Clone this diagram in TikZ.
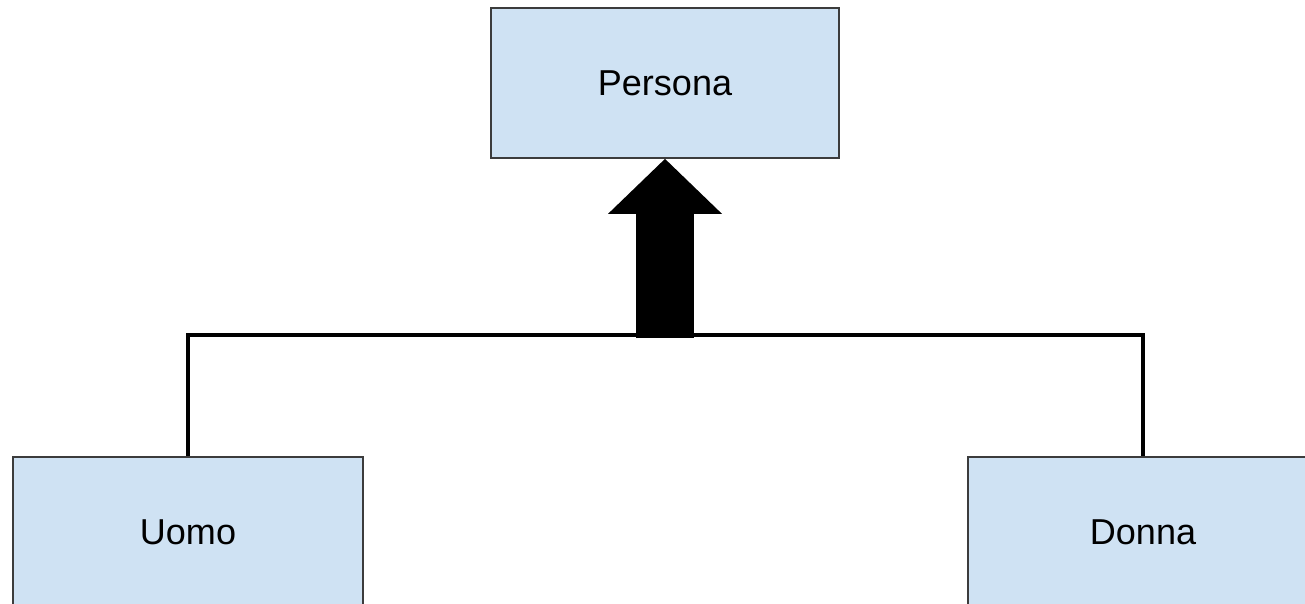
\documentclass[tikz,border=0pt]{standalone}
\usepackage{fontspec}
\setmainfont{Liberation Sans}
\usepackage{tikz}
\usetikzlibrary{positioning,arrows.meta,calc}
\definecolor{classblue}{RGB}{207,226,243}
\definecolor{classline}{RGB}{60,60,60}
\tikzset{
  classbox/.style={draw=classline,fill=classblue,line width=1pt,minimum width=6.96cm,minimum height=3cm,font=\fontsize{20.5}{24}\selectfont,inner sep=0pt},
  link/.style={line width=2.8pt,draw=black},
  inherit/.style={line width=1.16cm,draw=black,-{Triangle[length=1.1cm,width=2.28cm,line width=0pt]}},
}

\begin{document}
\begin{tikzpicture}
  \useasboundingbox (0,0) rectangle (26.1,-12.06);
  % superclass
  \node[classbox] (persona) at (13.3,-1.66) {Persona};
  % subclasses
  \node[classbox,minimum width=7cm] (uomo)  at (3.76,-10.64)  {Uomo};
  \node[classbox,minimum width=7cm] (donna) at (22.86,-10.64) {Donna};
  % bar and arrow
  \coordinate (join) at (13.3,-6.7);
  \draw[link] (uomo.north) |- (join) -| (donna.north);
  \draw[inherit] ($(join)+(0,-0.06)$) -- (persona.south);
\end{tikzpicture}
\end{document}
